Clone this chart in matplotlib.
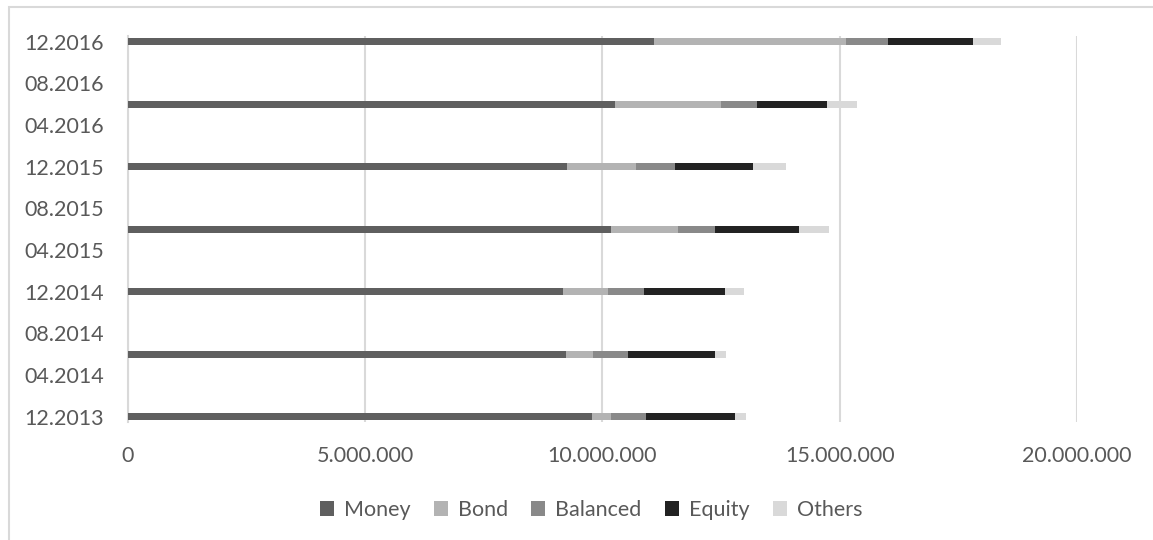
import matplotlib
matplotlib.use("Agg")
import matplotlib.pyplot as plt
from matplotlib.patches import Rectangle
from matplotlib.ticker import FuncFormatter, FixedLocator
import numpy as np
import pandas as pd

# Assets by fund type, half-yearly snapshots
periods = ["2013-12", "2014-06", "2014-12", "2015-06", "2015-12", "2016-06", "2016-12"]
money = [9_790_000, 9_240_000, 9_170_000, 10_190_000, 9_260_000, 10_260_000, 11_090_000]
bond = [400_000, 570_000, 950_000, 1_400_000, 1_450_000, 2_230_000, 4_050_000]
balanced = [740_000, 740_000, 760_000, 790_000, 830_000, 760_000, 880_000]
equity = [1_870_000, 1_830_000, 1_700_000, 1_760_000, 1_630_000, 1_480_000, 1_780_000]
others = [220_000, 220_000, 400_000, 630_000, 700_000, 630_000, 600_000]

series_names = ["Money", "Bond", "Balanced", "Equity", "Others"]
series_colors = ["#5f5f5f", "#b3b3b3", "#898989", "#222222", "#d9d9d9"]

x_ticks = [0, 5_000_000, 10_000_000, 15_000_000, 20_000_000]

TEXT = "#595959"
GRID = "#d9d9d9"
FONT = "Lato"

# month positions on a date axis
start = pd.Period(periods[0], freq="M")
ypos = np.array([(pd.Period(p, freq="M") - start).n for p in periods])
tick_months = np.arange(0, 37, 4)
tick_labels = [(start + int(m)).strftime("%m.%Y") for m in tick_months]

W, H = 1153, 540
fig = plt.figure(figsize=(W / 100, H / 100), dpi=100)
fig.patch.set_facecolor("white")

# chart-area border (runs off the right and bottom edges)
fig.patches.append(Rectangle((9 / W, -0.1), 1.2, 1 - 7 / H + 0.1,
                             transform=fig.transFigure, fill=False,
                             edgecolor=GRID, linewidth=1.5, zorder=0))

left, right = 127.7 / W, 1077 / W
bottom, top = 1 - 422 / H, 1 - 36 / H
ax = fig.add_axes([left, bottom, right - left, top - bottom])

cum = np.zeros(len(periods))
for vals, name, col in zip([money, bond, balanced, equity, others], series_names, series_colors):
    v = np.array(vals, dtype=float)
    ax.barh(ypos, v, left=cum, height=0.67, color=col, label=name, zorder=3)
    cum += v

ax.set_xlim(0, 20_000_000)
ax.set_ylim(-0.5, 36.55)
ax.xaxis.set_major_locator(FixedLocator(x_ticks))
ax.xaxis.set_major_formatter(FuncFormatter(lambda v, _: f"{int(v):,}".replace(",", ".")))
ax.set_yticks(tick_months)
ax.set_yticklabels(tick_labels)

ax.grid(axis="x", color=GRID, linewidth=1.5, zorder=0)
for s in ["top", "right", "bottom"]:
    ax.spines[s].set_visible(False)
ax.spines["left"].set_color(GRID)
ax.spines["left"].set_linewidth(1.5)
ax.tick_params(axis="both", length=0, colors=TEXT, labelsize=15.5)
ax.tick_params(axis="x", pad=17)
ax.tick_params(axis="y", pad=17)
for lbl in ax.get_xticklabels() + ax.get_yticklabels():
    lbl.set_fontfamily(FONT)

leg = fig.legend(*ax.get_legend_handles_labels(), loc="center",
                 bbox_to_anchor=(591 / W, 1 - 510 / H), ncol=5, frameon=False,
                 handlelength=0.65, handleheight=0.65, handletextpad=0.45,
                 columnspacing=1.1,
                 prop={"family": FONT, "size": 15.5})
for t in leg.get_texts():
    t.set_color(TEXT)

fig.savefig("out.png", dpi=100, facecolor="white")
